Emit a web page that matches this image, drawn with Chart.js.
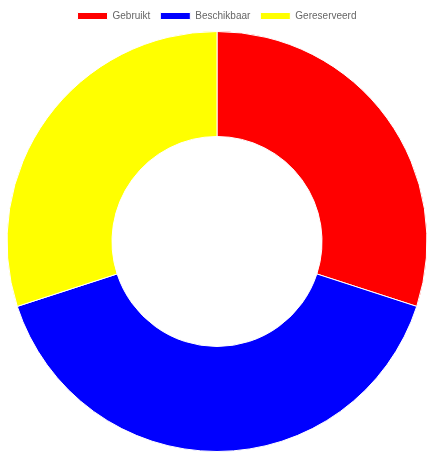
<!DOCTYPE html>
<html>
<head>
<meta charset="utf-8">
<script src="https://cdn.jsdelivr.net/npm/chart.js@4/dist/chart.umd.min.js"></script>
<style>
    body { margin: 0; background: #fff; }
    #wrap { width: 447px; height: 456px; }
</style>
</head>
<body>
<div id="wrap"><canvas id="doughnutChart"></canvas></div>
<script>
const labels = ['Gebruikt', 'Beschikbaar', 'Gereserveerd'];
const values = [30, 40, 30];
const colors = ['#ff0000', '#0000ff', '#ffff00'];

document.addEventListener('DOMContentLoaded', () => {
    const ctx = document.getElementById('doughnutChart').getContext('2d');

    new Chart(ctx, {
        type: 'doughnut',
        data: {
            labels: labels,
            datasets: [{
                data: values,
                backgroundColor: colors,
                borderColor: '#fff',
                borderWidth: 1
            }]
        },
        options: {
            responsive: true,
            maintainAspectRatio: false,
            animation: false,
            cutout: '50%',
            layout: { padding: { left: 0, right: 13, top: 1, bottom: 4 } },
            plugins: {
                legend: {
                    labels: {
                        boxWidth: 30,
                        boxHeight: 7,
                        color: '#666',
                        font: { family: 'Liberation Sans, Arial, sans-serif', size: 10 }
                    }
                },
                tooltip: { enabled: false }
            }
        }
    });
});
</script>
</body>
</html>
